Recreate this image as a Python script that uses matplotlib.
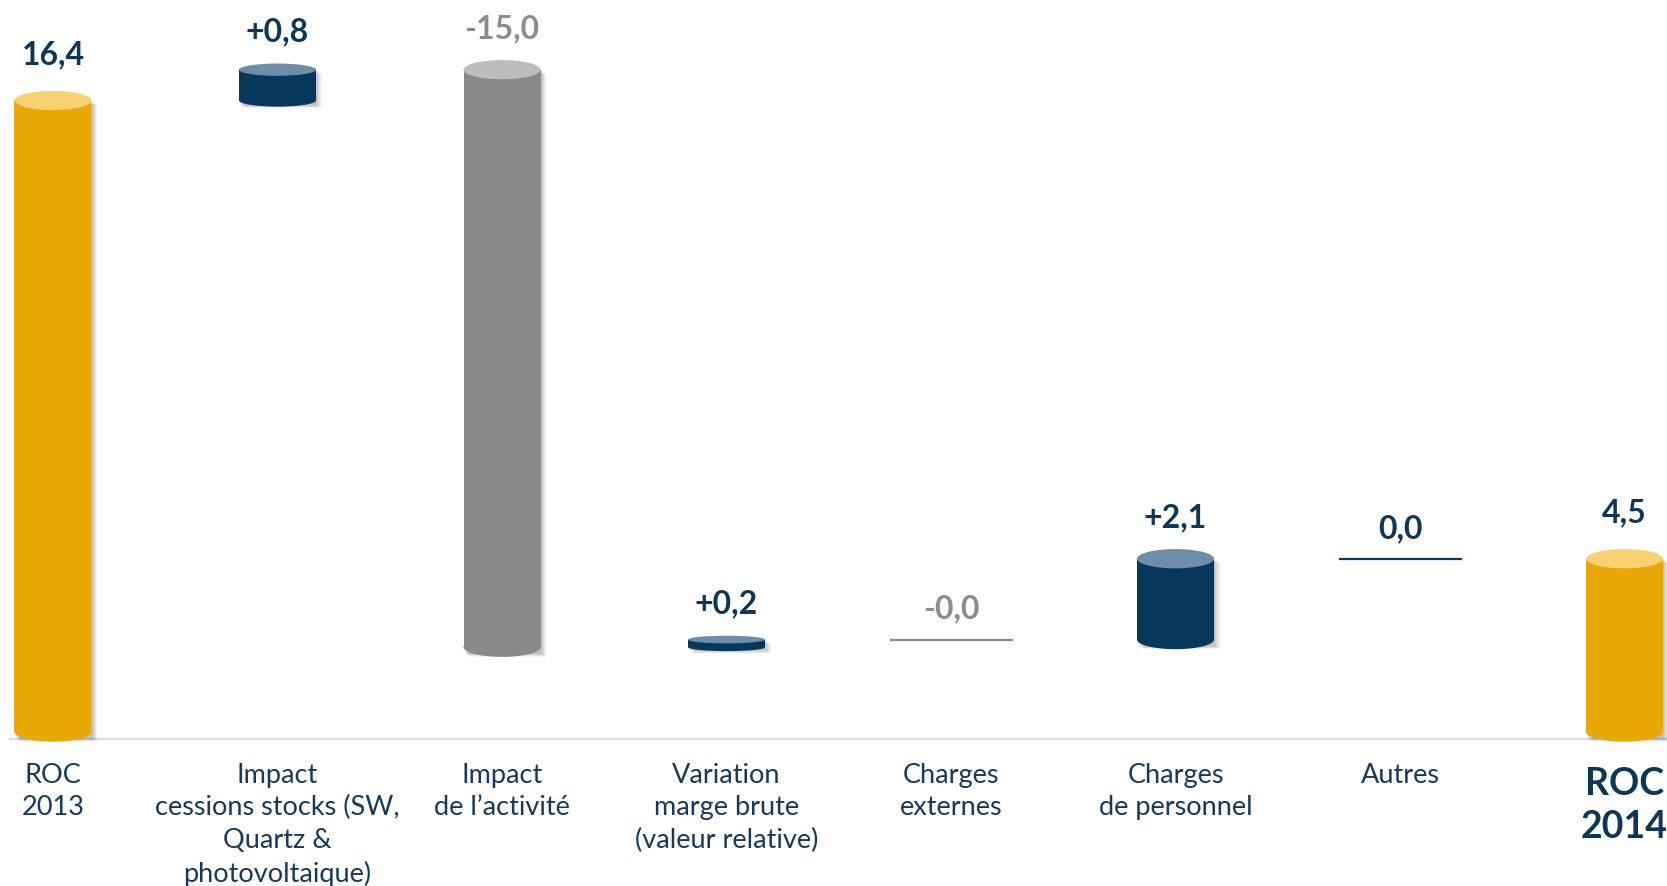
import matplotlib
matplotlib.use('Agg')
import matplotlib.pyplot as plt
from matplotlib.patches import Rectangle, Ellipse
import numpy as np

plt.rcParams['font.family'] = ['Lato', 'DejaVu Sans']

######################
# DATA
######################

categories = ['ROC\n2013',
              'Impact\ncessions stocks (SW,\nQuartz &\nphotovoltaique)',
              'Impact\nde l\u2019activit\u00e9',
              'Variation\nmarge brute\n(valeur relative)',
              'Charges\nexternes',
              'Charges\nde personnel',
              'Autres',
              'ROC\n2014']
values = [16.4, 0.8, -15.0, 0.2, -0.0, 2.1, 0.0, 4.5]
value_labels = ['16,4', '+0,8', '-15,0', '+0,2', '-0,0', '+2,1', '0,0', '4,5']
is_total = [True, False, False, False, False, False, False, True]

GOLD, GOLD_TOP = '#E8A808', '#F8D272'
NAVY, NAVY_TOP = '#08375C', '#6E8DA8'
GREY, GREY_TOP = '#898989', '#BDBDBD'
TXT_NAVY, TXT_GREY = '#0E3657', '#8C8C8C'

BAR_W = 0.343
LINE_W = 0.548


def draw_cylinder(ax, x, lo, hi, body, cap, eh):
    # soft shadow on the right
    for k in range(1, 6):
        ax.add_patch(Rectangle((x - BAR_W / 2 + 0.005 * k, lo - eh * 0.3 - 0.02 * k), BAR_W, hi - lo + eh * 0.3,
                               facecolor='black', edgecolor='none', alpha=0.05, zorder=2))
    ax.add_patch(Rectangle((x - BAR_W / 2, lo), BAR_W, hi - lo, facecolor=body, edgecolor='none', zorder=3))
    ax.add_patch(Ellipse((x, lo), BAR_W, eh, facecolor=body, edgecolor='none', zorder=3))
    ax.add_patch(Ellipse((x, hi), BAR_W, eh, facecolor=cap, edgecolor='none', zorder=4))


fig = plt.figure(figsize=(16.67, 8.86), dpi=100, facecolor='w')
ax = fig.add_axes([0, 0, 1, 1])
ax.set_xlim(-0.236, 7.189)
ax.set_ylim(-4.0, 19.01)
ax.axis('off')

# baseline
ax.plot([-0.19, 7.2], [-0.18, -0.18], color='#D3DEE7', linewidth=1.5, zorder=1)

running = 0.0
for i, v in enumerate(values):
    if is_total[i]:
        lo, hi = 0.0, v
        running = v
    else:
        lo, hi = sorted([running, running + v])
        running = running + v
    negative = np.signbit(v)
    lbl_color = TXT_GREY if negative else TXT_NAVY

    if hi - lo < 1e-9:
        # zero variation: flat line
        ax.plot([i - LINE_W / 2, i + LINE_W / 2], [hi, hi], color=GREY if negative else NAVY,
                linewidth=1.6, zorder=3, solid_capstyle='butt')
        top_edge = hi
        off = 15
    else:
        if is_total[i]:
            body, cap = GOLD, GOLD_TOP
            eh = 0.5
            off = 19
        elif negative:
            body, cap = GREY, GREY_TOP
            eh = min(0.5, max(0.2, 0.4 * (hi - lo)))
            off = 16
        else:
            body, cap = NAVY, NAVY_TOP
            eh = min(0.5, max(0.2, 0.4 * (hi - lo)))
            off = 16
        draw_cylinder(ax, i, lo, hi, body, cap, eh)
        top_edge = hi + eh / 2

    ax.annotate(value_labels[i], xy=(i, top_edge), xytext=(0, off), textcoords='offset points',
                ha='center', va='baseline', fontsize=23, fontweight='bold', color=lbl_color)

    if is_total[i] and i == len(values) - 1:
        ax.text(i, -0.92, categories[i], ha='center', va='top', fontsize=27, fontweight='bold',
                color=TXT_NAVY, linespacing=1.3)
    else:
        ax.text(i, -0.8, categories[i], ha='center', va='top', fontsize=19.5,
                color='#163A5C', linespacing=1.38)

fig.savefig('out.png', dpi=100, facecolor='w')
plt.close(fig)
